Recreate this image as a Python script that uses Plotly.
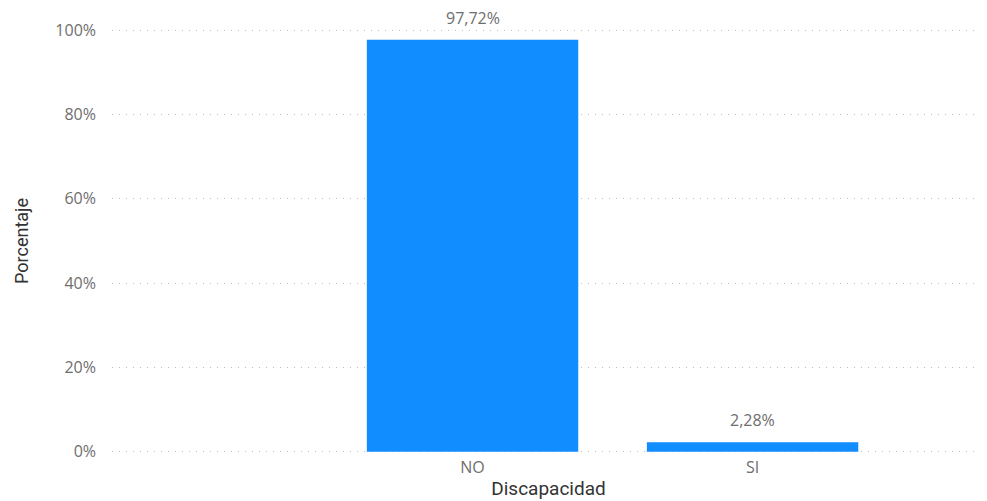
import plotly.graph_objects as go

categories = ["NO", "SI"]
values = [97.72, 2.28]
labels = ["97,72%", "2,28%"]
y_ticks = [0, 20, 40, 60, 80, 100]
y_tick_labels = ["0%", "20%", "40%", "60%", "80%", "100%"]

fig = go.Figure(go.Bar(
    x=categories, y=values,
    marker=dict(color="#118DFF", line=dict(width=0)),
    width=0.755,
    hoverinfo="skip",
))

for c, v, t in zip(categories, values, labels):
    fig.add_annotation(
        x=c, y=v, text=t, showarrow=False,
        yanchor="bottom", yshift=9,
        font=dict(size=16, color="#6E6E6E", family="Open Sans"),
    )

fig.update_layout(
    width=987, height=501,
    margin=dict(l=104, r=10, t=21, b=56),
    paper_bgcolor="white", plot_bgcolor="white",
    font=dict(family="Open Sans", color="#6E6E6E"),
    showlegend=False,
    separators=",.",
)
fig.update_xaxes(
    range=[-1.2875, 1.83],
    showgrid=False, zeroline=False, showline=False,
    tickfont=dict(size=16, color="#6E6E6E"),
    ticklabelstandoff=3,
    title=dict(text="Discapacidad", font=dict(size=19, color="#333333", family="Roboto"), standoff=4),
)
fig.update_yaxes(
    range=[-0.3, 100.3],
    tickvals=y_ticks, ticktext=y_tick_labels,
    showgrid=True, gridcolor="#BDBDBD", griddash="1px,6px", gridwidth=1,
    zeroline=False, showline=False,
    tickfont=dict(size=16, color="#6E6E6E"),
    ticklabelstandoff=15,
    title=dict(text="Porcentaje", font=dict(size=18, color="#333333", family="Roboto"), standoff=22),
)

fig.write_html("out.html")
